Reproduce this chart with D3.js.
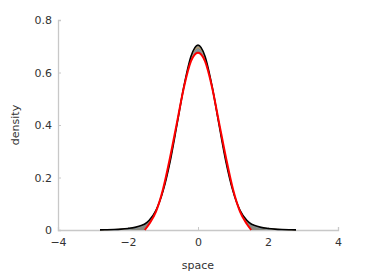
<!DOCTYPE html>
<html>
<head>
<meta charset="utf-8">
<script src="https://cdn.jsdelivr.net/npm/d3@7"></script>
<style>
  body { margin: 0; background: #fff; }
  text { font-family: "DejaVu Sans", sans-serif; fill: #333; }
</style>
</head>
<body>
<script>
// sample positions on the space axis
const xs = [-2.8, -2.6, -2.4, -2.2, -2.0, -1.8, -1.6, -1.52, -1.4, -1.2, -1.0, -0.8, -0.6, -0.4, -0.2, 0,
            0.2, 0.4, 0.6, 0.8, 1.0, 1.2, 1.4, 1.52, 1.6, 1.8, 2.0, 2.2, 2.4, 2.6, 2.8]

// final density (black, heavy tails)
const blackDens = [0.0003, 0.001, 0.002, 0.0035, 0.006, 0.010, 0.018, 0.023, 0.036, 0.075, 0.148, 0.259, 0.402, 0.549, 0.662, 0.705,
                   0.662, 0.549, 0.402, 0.259, 0.148, 0.075, 0.036, 0.023, 0.018, 0.010, 0.006, 0.0035, 0.002, 0.001, 0.0003]

// a couple of intermediate densities
const midA = [0.0002, 0.0007, 0.0015, 0.003, 0.005, 0.009, 0.017, 0.022, 0.035, 0.075, 0.149, 0.261, 0.404, 0.548, 0.655, 0.695,
              0.655, 0.548, 0.404, 0.261, 0.149, 0.075, 0.035, 0.022, 0.017, 0.009, 0.005, 0.003, 0.0015, 0.0007, 0.0002]
const midB = [0.0001, 0.0004, 0.001, 0.002, 0.004, 0.007, 0.015, 0.020, 0.034, 0.074, 0.150, 0.263, 0.406, 0.547, 0.650, 0.686,
              0.650, 0.547, 0.406, 0.263, 0.150, 0.074, 0.034, 0.020, 0.015, 0.007, 0.004, 0.002, 0.001, 0.0004, 0.0001]

// initial density (red, compact support)
const redDens = [0, 0, 0, 0, 0, 0, 0, 0, 0.022, 0.07, 0.155, 0.275, 0.41, 0.545, 0.643, 0.675,
                 0.643, 0.545, 0.41, 0.275, 0.155, 0.07, 0.022, 0, 0, 0, 0, 0, 0, 0, 0]

const xTicks = [-4, -2, 0, 2, 4]
const yTicks = [0, 0.2, 0.4, 0.6, 0.8]

let margin = {top: 20, right: 36, bottom: 50, left: 58},
    width = 374 - margin.left - margin.right,
    height = 280 - margin.top - margin.bottom

let svg = d3.select("body").append("svg")
    .attr("width", 374)
    .attr("height", 280)

let g = svg.append("g")
    .attr("transform", "translate(" + margin.left + "," + margin.top + ")")

let x = d3.scaleLinear().domain([-4, 4]).range([0, width])
let y = d3.scaleLinear().domain([0, 0.8]).range([height, 0])

// axes, octave style: light grey, ticks inward
let xAxis = g.append("g")
    .attr("transform", "translate(0," + height + ")")
    .call(d3.axisBottom(x).tickValues(xTicks).tickSize(-3).tickPadding(6).tickFormat(d3.format("d")))
let yAxis = g.append("g")
    .call(d3.axisLeft(y).tickValues(yTicks).tickSize(-3).tickPadding(6).tickFormat(d => d === 0 ? "0" : d3.format(".1f")(d)))

;[xAxis, yAxis].forEach(a => {
    a.select(".domain").attr("stroke", "#c8c8c8").attr("stroke-width", 1.3)
    a.selectAll(".tick line").attr("stroke", "#c8c8c8")
    a.selectAll(".tick text").attr("font-size", 11).attr("fill", "#333")
})
xAxis.selectAll(".tick text").attr("dy", "0.9em")

// grey band between initial and final
let band = d3.area()
    .x((d, i) => x(xs[i]))
    .y0((d, i) => y(redDens[i]))
    .y1((d, i) => y(blackDens[i]))
    .curve(d3.curveMonotoneX)

g.append("path")
    .datum(xs)
    .attr("d", band)
    .attr("fill", "#8a8a80")

let line = d3.line()
    .x((d, i) => x(xs[i]))
    .y(d => y(d))
    .curve(d3.curveMonotoneX)

g.append("path").datum(midB).attr("d", line)
    .attr("fill", "none").attr("stroke", "#7f9cc0").attr("stroke-width", 1)
g.append("path").datum(midA).attr("d", line)
    .attr("fill", "none").attr("stroke", "#c9a46a").attr("stroke-width", 1)

g.append("path").datum(blackDens).attr("d", line)
    .attr("fill", "none").attr("stroke", "#000").attr("stroke-width", 1.6)

// red only where it has support
let redLine = d3.line()
    .defined((d, i) => xs[i] >= -1.52 && xs[i] <= 1.52)
    .x((d, i) => x(xs[i]))
    .y(d => y(d))
    .curve(d3.curveMonotoneX)

g.append("path").datum(redDens).attr("d", redLine)
    .attr("fill", "none").attr("stroke", "#ff0000").attr("stroke-width", 2)

// labels
svg.append("text")
    .attr("x", margin.left + width / 2)
    .attr("y", 269)
    .attr("text-anchor", "middle")
    .attr("font-size", 11)
    .text("space")

svg.append("text")
    .attr("transform", "translate(19," + (margin.top + height / 2) + ") rotate(-90)")
    .attr("text-anchor", "middle")
    .attr("font-size", 11)
    .text("density")
</script>
</body>
</html>
